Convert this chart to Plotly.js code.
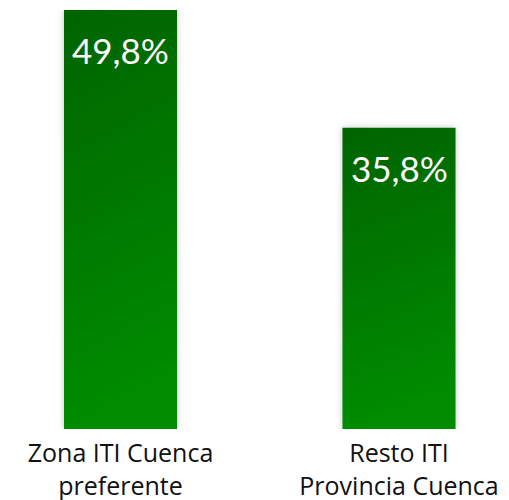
<!DOCTYPE html>
<html>
<head>
<meta charset="utf-8">
<script src="https://cdn.plot.ly/plotly-3.0.1.min.js"></script>
<style>
  html, body { margin: 0; padding: 0; background: #fff; }
  #chart { width: 509px; height: 500px; }
</style>
</head>
<body>
<div id="chart"></div>
<script>
// DATA
const categories = ['Zona ITI Cuenca<br>preferente', 'Resto ITI<br>Provincia Cuenca']
const values = [49.8, 35.8]

// label like 49,8%
function fmt(v) {
  return v.toFixed(1).replace('.', ',') + '%'
}

const bars = {
  x: [0, 1],
  y: values,
  type: 'bar',
  width: 0.406,
  marker: { color: '#007700', line: { width: 0 } },
  hoverinfo: 'none',
}

const labels = values.map((v, i) => ({
  x: i,
  y: v,
  text: fmt(v),
  showarrow: false,
  yanchor: 'middle',
  yshift: -40,
  font: { family: 'Lato, sans-serif', size: 35, color: '#ffffff' },
}))

const layout = {
  width: 509,
  height: 500,
  margin: { l: 0, r: 0, t: 10, b: 71 },
  paper_bgcolor: '#ffffff',
  plot_bgcolor: '#ffffff',
  showlegend: false,
  xaxis: {
    range: [-0.4327, 1.395],
    tickvals: [0, 1],
    ticktext: categories,
    showgrid: false,
    zeroline: false,
    showline: false,
    ticks: '',
    ticklabelstandoff: 7,
    tickfont: { family: '"Open Sans", sans-serif', size: 25, color: '#111111' },
    fixedrange: true,
  },
  yaxis: {
    range: [0, 49.8],
    visible: false,
    showgrid: false,
    zeroline: false,
    fixedrange: true,
  },
  annotations: labels,
}

Plotly.newPlot('chart', [bars], layout, { displayModeBar: false, staticPlot: true }).then((gd) => {
  // vertical green gradient + soft shadow on the bars
  const ns = 'http://www.w3.org/2000/svg'
  const svg = gd.querySelector('.main-svg')
  let defs = svg.querySelector('defs')
  if (!defs) {
    defs = document.createElementNS(ns, 'defs')
    svg.insertBefore(defs, svg.firstChild)
  }
  const grad = document.createElementNS(ns, 'linearGradient')
  grad.setAttribute('id', 'barGrad')
  grad.setAttribute('x1', '0')
  grad.setAttribute('y1', '0')
  grad.setAttribute('x2', '0.15')
  grad.setAttribute('y2', '1')
  const stops = [['0', '#006400'], ['1', '#008c00']]
  stops.forEach(([off, col]) => {
    const s = document.createElementNS(ns, 'stop')
    s.setAttribute('offset', off)
    s.setAttribute('stop-color', col)
    grad.appendChild(s)
  })
  defs.appendChild(grad)

  const filt = document.createElementNS(ns, 'filter')
  filt.setAttribute('id', 'barShadow')
  filt.setAttribute('x', '-20%')
  filt.setAttribute('y', '-5%')
  filt.setAttribute('width', '140%')
  filt.setAttribute('height', '110%')
  const ds = document.createElementNS(ns, 'feDropShadow')
  ds.setAttribute('dx', '0')
  ds.setAttribute('dy', '0')
  ds.setAttribute('stdDeviation', '3')
  ds.setAttribute('flood-color', '#000')
  ds.setAttribute('flood-opacity', '0.22')
  filt.appendChild(ds)
  defs.appendChild(filt)

  gd.querySelectorAll('.bars .point path').forEach((p) => {
    p.style.fill = 'url(#barGrad)'
    p.setAttribute('filter', 'url(#barShadow)')
  })
})
</script>
</body>
</html>
